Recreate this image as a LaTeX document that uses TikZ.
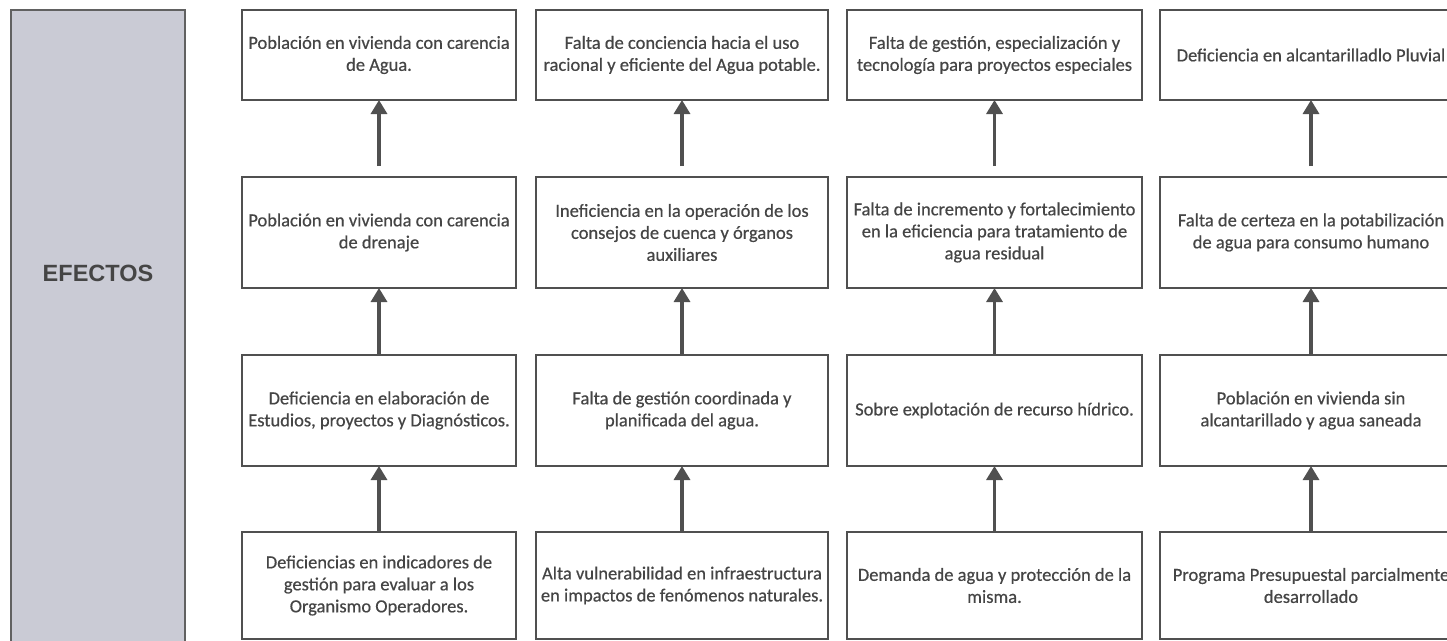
\documentclass[tikz,border=0pt]{standalone}
\usepackage{fontspec}
\setmainfont{Carlito}
\newfontfamily\boxfont{Carlito}[FakeBold=0.5]
\newfontfamily\arialfont{Liberation Sans}
\usetikzlibrary{arrows.meta}
\definecolor{boxline}{HTML}{505050}
\definecolor{txt}{HTML}{454545}
\definecolor{panelfill}{HTML}{CACBD5}
\begin{document}
\begin{tikzpicture}[x=1pt,y=-1pt,
  box/.style={draw=boxline, line width=1.6pt, rectangle, inner sep=0pt, outer sep=0pt,
    align=center, text=txt, font=\boxfont\fontsize{18.5}{22}\selectfont},
  w1/.style={minimum width=274pt}, w2/.style={minimum width=292pt},
  w3/.style={minimum width=295pt}, w4/.style={minimum width=302pt},
  h1/.style={minimum height=90pt}, h2/.style={minimum height=111pt},
  h3/.style={minimum height=111pt}, h4/.style={minimum height=107pt},
  uparrow/.style={draw=boxline, line width=3.2pt, -{Triangle[width=16pt,length=14pt]}},
  panel/.style={draw=boxline!90, line width=1.4pt, fill=panelfill}]
\useasboundingbox (0,0) rectangle (1447,640);
\fill[white] (0,0) rectangle (1447,640);
% left panel
\path[panel] (11,10) rectangle (185,660);
\node[text=txt, font=\arialfont\bfseries\fontsize{23.5}{27}\selectfont] (efectos) at (98,273) {EFECTOS};
% row 1
\node[box,w1,h1] (c1r1) at (379,55) {Población en vivienda con carencia\\de Agua.};
\node[box,w2,h1] (c2r1) at (682,55) {Falta de conciencia hacia el uso\\racional y eficiente del Agua potable.};
\node[box,w3,h1] (c3r1) at (994.5,55) {Falta de gestión, especialización y\\tecnología para proyectos especiales};
\node[box,w4,h1] (c4r1) at (1311,55) {Deficiencia en alcantarilladlo Pluvial};
% row 2
\node[box,w1,h2] (c1r2) at (379,232.5) {Población en vivienda con carencia\\de drenaje};
\node[box,w2,h2] (c2r2) at (682,232.5) {Ineficiencia en la operación de los\\consejos de cuenca y órganos\\auxiliares};
\node[box,w3,h2] (c3r2) at (994.5,232.5) {Falta de incremento y fortalecimiento\\en la eficiencia para tratamiento de\\agua residual};
\node[box,w4,h2] (c4r2) at (1311,232.5) {Falta de certeza en la potabilización\\de agua para consumo humano};
% row 3
\node[box,w1,h3] (c1r3) at (379,410.5) {Deficiencia en elaboración de\\Estudios, proyectos y Diagnósticos.};
\node[box,w2,h3] (c2r3) at (682,410.5) {Falta de gestión coordinada y\\planificada del agua.};
\node[box,w3,h3] (c3r3) at (994.5,410.5) {Sobre explotación de recurso hídrico.};
\node[box,w4,h3] (c4r3) at (1311,410.5) {Población en vivienda sin\\alcantarillado y agua saneada};
% row 4
\node[box,w1,h4] (c1r4) at (379,585.5) {Deficiencias en indicadores de\\gestión para evaluar a los\\Organismo Operadores.};
\node[box,w2,h4] (c2r4) at (682,585.5) {Alta vulnerabilidad en infraestructura\\en impactos de fenómenos naturales.};
\node[box,w3,h4] (c3r4) at (994.5,585.5) {Demanda de agua y protección de la\\misma.};
\node[box,w4,h4] (c4r4) at (1311,585.5) {Programa Presupuestal parcialmente\\desarrollado};
% arrows
\foreach \c in {c1,c2,c3,c4}{
  \draw[uparrow] (\c r4.north) -- (\c r3.south);
  \draw[uparrow] (\c r3.north) -- (\c r2.south);
  \coordinate (\c gap) at ([yshift=11pt]\c r2.north);
  \draw[uparrow] (\c gap) -- (\c r1.south);
}
\end{tikzpicture}
\end{document}
